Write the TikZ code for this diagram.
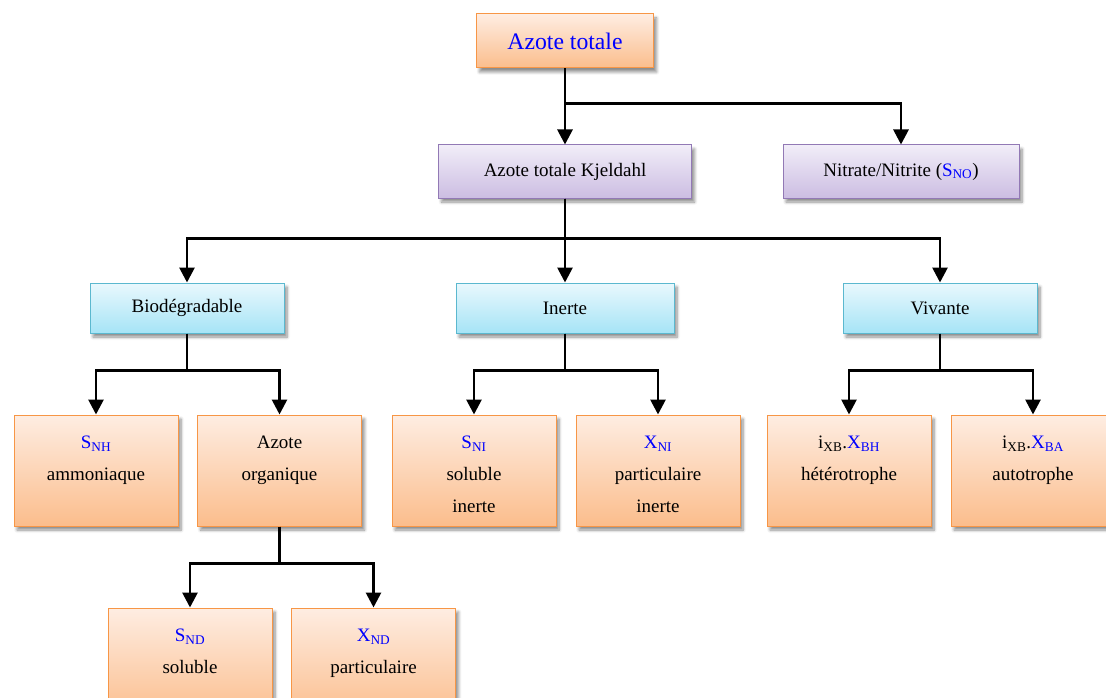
\documentclass[tikz,border=0pt]{standalone}
\usepackage{fontspec}
\setmainfont{Liberation Serif}
\usetikzlibrary{arrows.meta,shadows,shadows.blur}

\definecolor{orange_line}{HTML}{F79646}
\definecolor{orange_top}{HTML}{FEEDE2}
\definecolor{orange_bot}{HTML}{FBBD8C}
\definecolor{purple_line}{HTML}{9279B5}
\definecolor{purple_top}{HTML}{F1EDF8}
\definecolor{purple_bot}{HTML}{CCBDE2}
\definecolor{blue_line}{HTML}{5BB8CF}
\definecolor{blue_top}{HTML}{E9F8FD}
\definecolor{blue_bot}{HTML}{A6E4F6}

\newcommand{\bluetxt}[1]{\textcolor{blue}{#1}}
\newcommand{\leafstrut}{\rule{0pt}{20pt}}

\tikzset{
  base_box/.style={rectangle, draw, line width=1pt, align=center, inner sep=0pt,
    blur shadow={shadow xshift=3pt, shadow yshift=-4pt, shadow blur steps=6,
      shadow blur radius=3pt, shadow opacity=45}},
  top_box/.style={base_box, draw=orange_line, top color=orange_top, bottom color=orange_bot,
    minimum width=177pt, minimum height=54pt, text=blue, font=\fontsize{23.7}{28}\selectfont},
  kj_box/.style={base_box, draw=purple_line, top color=purple_top, bottom color=purple_bot,
    minimum height=53pt},
  cls_box/.style={base_box, draw=blue_line, top color=blue_top, bottom color=blue_bot,
    minimum height=50pt},
  leaf_box/.style={base_box, draw=orange_line, top color=orange_top, bottom color=orange_bot,
    minimum width=164pt, minimum height=111pt},
  link/.style={line width=2.8pt, -{Triangle[width=15pt,length=15pt]}},
}

\begin{document}
\begin{tikzpicture}[
  x=1pt, y=-1pt,
  every node/.style={font=\fontsize{19}{32}\selectfont},
  ]

  \useasboundingbox (0,0) rectangle (1106,698);

  % level 0 and 1
  \node[top_box] (tot) at (565,41) {Azote totale};
  \node[kj_box, minimum width=253pt] (atk) at (565,171.5) {Azote totale Kjeldahl};
  \node[kj_box, minimum width=236pt] (nit) at (901,171.5)
       {Nitrate/Nitrite (\bluetxt{S\textsubscript{NO}})};

  % level 2
  \node[cls_box, minimum width=194pt] (bio) at (187,308) {Biodégradable};
  \node[cls_box, minimum width=218pt] (ine) at (565,308) {Inerte};
  \node[cls_box, minimum width=194pt] (viv) at (940,308) {Vivante};

  % level 3
  \node[leaf_box] (snh) at (96,470.5)
       {\leafstrut\bluetxt{S\textsubscript{NH}}\\ammoniaque\\\mbox{}};
  \node[leaf_box] (org) at (279.5,470.5) {\leafstrut Azote\\organique\\\mbox{}};
  \node[leaf_box] (sni) at (474,470.5)
       {\leafstrut\bluetxt{S\textsubscript{NI}}\\soluble\\inerte};
  \node[leaf_box] (xni) at (658,470.5)
       {\leafstrut\bluetxt{X\textsubscript{NI}}\\particulaire\\inerte};
  \node[leaf_box] (xbh) at (849,470.5)
       {\leafstrut i\textsubscript{XB}.\bluetxt{X\textsubscript{BH}}\\hétérotrophe\\\mbox{}};
  \node[leaf_box] (xba) at (1033,470.5)
       {\leafstrut i\textsubscript{XB}.\bluetxt{X\textsubscript{BA}}\\autotrophe\\\mbox{}};

  % level 4
  \node[leaf_box] (snd) at (190,663.5)
       {\leafstrut\bluetxt{S\textsubscript{ND}}\\soluble\\\mbox{}};
  \node[leaf_box] (xnd) at (373.5,663.5)
       {\leafstrut\bluetxt{X\textsubscript{ND}}\\particulaire\\\mbox{}};

  \draw[link] (tot.south) -- (atk.north);
  \draw[link] (tot.south) -- ++(0,35) -| (nit.north);

  \draw[link] (atk.south) -- (ine.north);
  \draw[link] (atk.south) -- ++(0,40) -| (bio.north);
  \draw[link] (atk.south) -- ++(0,40) -| (viv.north);

  \draw[link] (bio.south) -- ++(0,37) -| (snh.north);
  \draw[link] (bio.south) -- ++(0,37) -| (org.north);
  \draw[link] (ine.south) -- ++(0,37) -| (sni.north);
  \draw[link] (ine.south) -- ++(0,37) -| (xni.north);
  \draw[link] (viv.south) -- ++(0,37) -| (xbh.north);
  \draw[link] (viv.south) -- ++(0,37) -| (xba.north);

  \draw[link] (org.south) -- ++(0,37) -| (snd.north);
  \draw[link] (org.south) -- ++(0,37) -| (xnd.north);

\end{tikzpicture}
\end{document}
